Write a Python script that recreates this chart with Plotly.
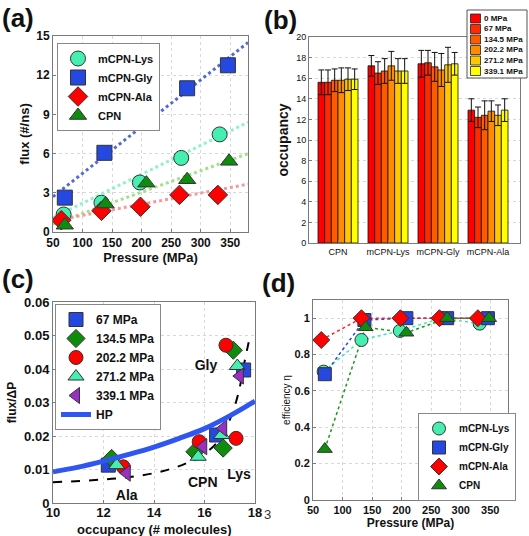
import plotly.graph_objects as go

W, H = 529, 536
FONT = "Liberation Sans, Arial, sans-serif"


def fx(x):
    return x / W


def fy(y):
    return 1 - y / H


# ---------------- Panel (a): flux vs pressure ----------------
a_series = ["mCPN-Lys", "mCPN-Gly", "mCPN-Ala", "CPN"]
press_lys = [68, 132, 197, 267, 332]
flux_lys = [1.34, 2.24, 3.79, 5.67, 7.47]
press_gly = [70, 137, 208, 277, 346]
flux_gly = [2.63, 6.06, 9.46, 11.0, 12.76]
press_ala = [64, 132, 198, 264, 329]
flux_ala = [0.90, 1.62, 1.93, 2.84, 2.84]
press_cpn = [70, 139, 208, 277, 348]
flux_cpn = [0.52, 2.14, 3.74, 4.00, 5.41]
fit_x = [50, 380]
fit_lys = [1.1, 8.4]
fit_gly = [2.7, 14.5]
fit_ala = [0.85, 3.66]
fit_cpn = [0.6, 6.0]
a_xticks = [50, 100, 150, 200, 250, 300, 350]
a_yticks = [0, 3, 6, 9, 12, 15]

# ---------------- Panel (b): occupancy bars ----------------
b_cats = ["CPN", "mCPN-Lys", "mCPN-Gly", "mCPN-Ala"]
b_labels = ["0 MPa", "67 MPa", "134.5 MPa", "202.2 MPa", "271.2 MPa", "339.1 MPa"]
occ_0 = [15.6, 17.2, 17.4, 12.9]
occ_67 = [15.6, 16.5, 17.5, 12.2]
occ_134 = [15.8, 16.7, 17.1, 12.4]
occ_202 = [15.8, 17.2, 16.8, 12.8]
occ_271 = [15.9, 16.7, 17.3, 12.4]
occ_339 = [15.9, 16.7, 17.4, 12.9]
err_0 = [1.2, 1.0, 1.3, 1.1]
err_67 = [1.2, 1.1, 1.2, 1.0]
err_134 = [1.1, 1.2, 1.4, 1.4]
err_202 = [1.2, 1.4, 1.6, 1.0]
err_271 = [1.1, 1.2, 1.7, 1.0]
err_339 = [1.0, 1.2, 1.1, 1.1]
b_colors = ["#ff0000", "#ff2a00", "#ff5a00", "#ff8c00", "#ffc800", "#ffff00"]
b_yticks = [0, 2, 4, 6, 8, 10, 12, 14, 16, 18, 20]

# ---------------- Panel (c): flux/dP vs occupancy ----------------
c_labels = ["67 MPa", "134.5 MPa", "202.2 MPa", "271.2 MPa", "339.1 MPa"]
c_occ_67 = [12.19, 16.48, 17.55]
c_flux_67 = [0.0113, 0.0203, 0.0397]
c_occ_134 = [12.32, 15.62, 16.74, 17.14]
c_flux_134 = [0.0133, 0.0153, 0.0164, 0.0456]
c_occ_202 = [12.78, 15.79, 17.25, 16.85]
c_flux_202 = [0.0108, 0.0183, 0.0193, 0.0471]
c_occ_271 = [12.52, 15.75, 16.68, 17.30]
c_flux_271 = [0.0113, 0.0138, 0.0203, 0.0409]
c_occ_339 = [12.92, 15.95, 16.74, 17.40]
c_flux_339 = [0.0089, 0.0168, 0.0223, 0.0379]
hp_occ = [10, 11, 12, 13, 14, 15, 16, 17, 18]
hp_flux = [0.0093, 0.0107, 0.0125, 0.0145, 0.0167, 0.0193, 0.0222, 0.0260, 0.0304]
dash_occ = [10, 13.2, 14.76, 15.82, 16.48, 17.0, 17.34, 17.6, 17.78]
dash_flux = [0.0062, 0.0079, 0.0104, 0.0139, 0.0179, 0.0248, 0.0327, 0.0427, 0.049]
c_text = ["Gly", "CPN", "Lys", "Ala"]
c_text_x = [16.06, 15.93, 17.37, 12.92]
c_text_y = [0.0408, 0.0057, 0.0083, 0.0018]

# ---------------- Panel (d): efficiency ----------------
eff_lys = [0.706, 0.88, 0.93, 1.0, 0.97]
eff_gly = [0.692, 0.99, 1.0, 1.0, 1.0]
eff_ala = [0.88, 1.0, 1.0, 1.0, 1.0]
eff_cpn = [0.28, 0.95, 0.92, 1.0, 1.0]
d_yticks = [0, 0.2, 0.4, 0.6, 0.8, 1]

# styles
COL_LYS = "#45efb0"
COL_GLY = "#2448e0"
COL_ALA = "#ff0000"
COL_CPN = "#0e8c0e"
OUT = dict(color="#333333", width=1)

fig = go.Figure()

# ---- (a)
for fy_, col in [(fit_gly, "#5468d8"), (fit_lys, "#8ff2c8"), (fit_cpn, "#9fe28a"), (fit_ala, "#f49a9a")]:
    fig.add_trace(go.Scatter(x=fit_x, y=fy_, mode="lines", line=dict(color=col, width=3, dash="dot"),
                             showlegend=False, hoverinfo="skip", xaxis="x", yaxis="y"))
for name, xs, ys, sym, col in [
    (a_series[0], press_lys, flux_lys, "circle", COL_LYS),
    (a_series[1], press_gly, flux_gly, "square", COL_GLY),
    (a_series[2], press_ala, flux_ala, "diamond", COL_ALA),
    (a_series[3], press_cpn, flux_cpn, "triangle-up", COL_CPN),
]:
    fig.add_trace(go.Scatter(x=xs, y=ys, mode="markers", name=name,
                             marker=dict(symbol=sym, size=15, color=col, line=OUT),
                             xaxis="x", yaxis="y", legend="legend"))

# ---- (b)
for lab, vals, errs, col in zip(b_labels, [occ_0, occ_67, occ_134, occ_202, occ_271, occ_339],
                                [err_0, err_67, err_134, err_202, err_271, err_339], b_colors):
    fig.add_trace(go.Bar(x=b_cats, y=vals, name=lab, marker=dict(color=col, line=dict(color="#111", width=0.8)),
                         error_y=dict(type="data", array=errs, color="#111", thickness=1, width=3),
                         showlegend=False, xaxis="x2", yaxis="y2"))

# ---- (c)
fig.add_trace(go.Scatter(x=dash_occ, y=dash_flux, mode="lines", line=dict(color="black", width=2, dash="dash", shape="spline"),
                         showlegend=False, xaxis="x3", yaxis="y3"))
for lab, xs, ys, sym, col in [
    (c_labels[0], c_occ_67, c_flux_67, "square", COL_GLY),
    (c_labels[1], c_occ_134, c_flux_134, "diamond", COL_CPN),
    (c_labels[2], c_occ_202, c_flux_202, "circle", COL_ALA),
    (c_labels[3], c_occ_271, c_flux_271, "triangle-up", COL_LYS),
    (c_labels[4], c_occ_339, c_flux_339, "triangle-left", "#9a2fc6"),
]:
    fig.add_trace(go.Scatter(x=xs, y=ys, mode="markers", name=lab,
                             marker=dict(symbol=sym, size=14, color=col, line=OUT),
                             xaxis="x3", yaxis="y3", legend="legend3"))
fig.add_trace(go.Scatter(x=hp_occ, y=hp_flux, mode="lines", name="HP", line=dict(color="#2f56f0", width=5, shape="spline"),
                         xaxis="x3", yaxis="y3", legend="legend3"))
fig.add_trace(go.Scatter(x=c_text_x, y=c_text_y, mode="text", text=c_text,
                         textfont=dict(family=FONT, size=14, color="#111", weight="bold"),
                         showlegend=False, xaxis="x3", yaxis="y3"))

# ---- (d)
d_sets = [
    (a_series[0], press_lys, eff_lys, "circle", COL_LYS, "#3fe8b0"),
    (a_series[1], press_gly, eff_gly, "square", COL_GLY, "#2448e0"),
    (a_series[2], press_ala, eff_ala, "diamond", COL_ALA, "#ff2020"),
    (a_series[3], press_cpn, eff_cpn, "triangle-up", COL_CPN, "#1a9a1a"),
]
for name, xs, ys, sym, col, lcol in d_sets:
    fig.add_trace(go.Scatter(x=xs, y=ys, mode="lines", line=dict(color=lcol, width=1.5, dash="dot"),
                             showlegend=False, hoverinfo="skip", xaxis="x4", yaxis="y4"))
for name, xs, ys, sym, col, lcol in d_sets:
    fig.add_trace(go.Scatter(x=xs, y=ys, mode="markers", name=name,
                             marker=dict(symbol=sym, size=13, color=col, line=OUT),
                             xaxis="x4", yaxis="y4", legend="legend4"))

AX = dict(showline=True, linecolor="#7a7a7a", linewidth=1, mirror=True, ticks="inside", ticklen=3,
          tickcolor="#7a7a7a", showgrid=True, gridcolor="#d8d8d8", griddash="dot", zeroline=False,
          automargin=False)


def tf(size, bold=True):
    return dict(family=FONT, size=size, color="#111", weight="bold" if bold else "normal")


fig.update_layout(
    width=W, height=H, margin=dict(l=0, r=0, t=0, b=0, autoexpand=False),
    paper_bgcolor="white", plot_bgcolor="white", font=dict(family=FONT, color="#111"),
    barmode="group", bargap=0.2, bargroupgap=0,
    xaxis=dict(AX, domain=[fx(53), fx(248)], anchor="y", range=[50, 380], tickvals=a_xticks,
               tickfont=tf(12), title=dict(text="Pressure (MPa)", font=tf(13), standoff=0)),
    yaxis=dict(AX, domain=[fy(232), fy(36)], anchor="x", range=[0, 15], tickvals=a_yticks,
               tickfont=tf(12), title=dict(text="flux (#/ns)", font=tf(13), standoff=3)),
    xaxis2=dict(AX, domain=[fx(309), fx(520)], anchor="y2", type="category", range=[-0.58, 3.64],
                tickfont=tf(9, False), showgrid=False),
    yaxis2=dict(AX, domain=[fy(243), fy(37)], anchor="x2", range=[0, 20], tickvals=b_yticks,
                tickfont=tf(9, False), title=dict(text="occupancy", font=tf(14), standoff=4)),
    xaxis3=dict(AX, domain=[fx(53), fx(255)], anchor="y3", range=[10, 18], tickvals=[10, 12, 14, 16, 18],
                tickfont=tf(13), ticklabelstandoff=-3),
    yaxis3=dict(AX, domain=[fy(503), fy(302)], anchor="x3", range=[0, 0.06],
                tickvals=[0, 0.01, 0.02, 0.03, 0.04, 0.05, 0.06],
                tickfont=tf(13), title=dict(text="flux/ΔP", font=tf(12), standoff=4)),
    xaxis4=dict(AX, domain=[fx(313), fx(508)], anchor="y4", range=[50, 380], tickvals=a_xticks,
                tickfont=tf(11), title=dict(text="Pressure (MPa)", font=tf(12), standoff=0)),
    yaxis4=dict(AX, domain=[fy(500), fy(300)], anchor="x4", range=[0, 1.1], tickvals=d_yticks,
                tickfont=tf(11), title=dict(text="efficiency η", font=tf(10, False), standoff=2)),
    legend=dict(x=fx(57), y=fy(43), xanchor="left", yanchor="top", bgcolor="white",
                bordercolor="#888", borderwidth=1, font=tf(11), tracegroupgap=0, itemwidth=30),
    legend3=dict(x=fx(55), y=fy(304), xanchor="left", yanchor="top", bgcolor="white",
                 bordercolor="#888", borderwidth=1, font=tf(12), tracegroupgap=0, itemwidth=30),
    legend4=dict(x=fx(418), y=fy(413), xanchor="left", yanchor="top", bgcolor="white",
                 bordercolor="#888", borderwidth=1, font=tf(10), tracegroupgap=0, itemwidth=30),
)

# panel labels
annos = []
for t, x, y in [("(a)", 0, 1), ("(b)", 262, 3), ("(c)", 0, 262), ("(d)", 260, 266)]:
    annos.append(dict(text=t, x=fx(x), y=fy(y), xref="paper", yref="paper", xanchor="left", yanchor="top",
                      showarrow=False, font=dict(family=FONT, size=26, color="#111", weight="bold")))
annos.append(dict(text="3", x=fx(262), y=fy(505), xref="paper", yref="paper", xanchor="left", yanchor="top",
                  showarrow=False, font=dict(family=FONT, size=13, color="#333")))
# x-axis title of panel (c)
annos.append(dict(text="occupancy (# molecules)", x=fx(154), y=fy(529), xref="paper", yref="paper",
                  xanchor="center", yanchor="middle", showarrow=False, font=tf(13)))

# manual legend for panel (b)
shapes = [dict(type="rect", xref="paper", yref="paper", x0=fx(467), x1=fx(527), y0=fy(78), y1=fy(10),
               line=dict(color="#555", width=1), fillcolor="white", layer="above")]
for i, (lab, col) in enumerate(zip(b_labels, b_colors)):
    yc = 18.5 + i * 10.5
    shapes.append(dict(type="rect", xref="paper", yref="paper", x0=fx(470.5), x1=fx(480.5),
                       y0=fy(yc + 4.5), y1=fy(yc - 4.5), line=dict(color="#222", width=0.8),
                       fillcolor=col, layer="above"))
    annos.append(dict(text=lab, x=fx(481.5), y=fy(yc), xref="paper", yref="paper", xanchor="left",
                      yanchor="middle", showarrow=False, font=tf(8)))

fig.update_layout(annotations=annos, shapes=shapes)
fig.write_html("out.html", config={"displayModeBar": False},
               post_script="document.body.style.margin='0px';document.body.style.overflow='hidden';")
